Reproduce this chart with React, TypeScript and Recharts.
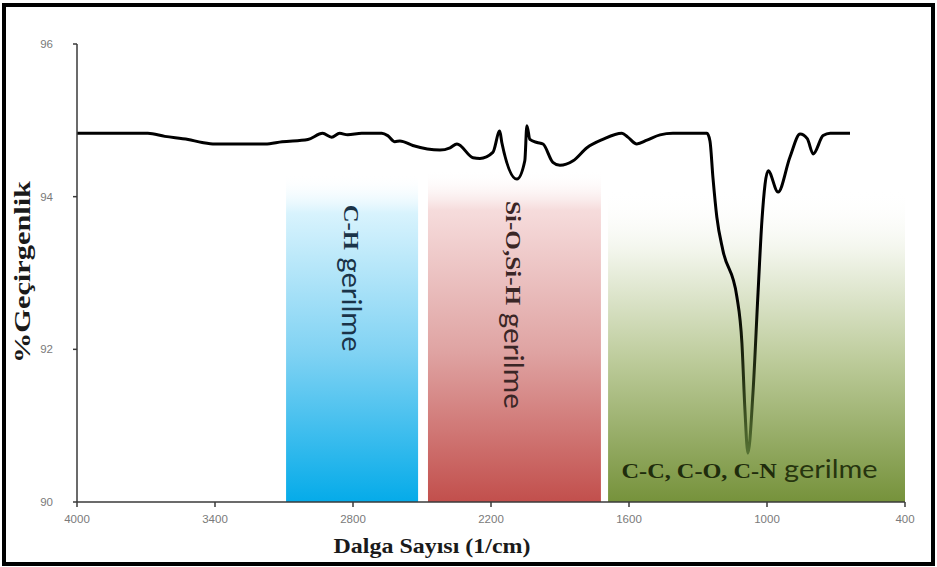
import React from "react";
import {
  LineChart,
  Line,
  XAxis,
  YAxis,
  ReferenceArea,
} from "recharts";

// wave numbers (1/cm) and % transmittance
const wavenumber = [
  4000, 3692, 3618, 3517, 3456, 3400, 3182, 3108, 2996, 2932, 2893, 2858, 2823,
  2762, 2675, 2649, 2618, 2596, 2540, 2422, 2378, 2348, 2278, 2248, 2192, 2162,
  2153, 2087, 2053, 2044, 2031, 2000, 1974, 1931, 1900, 1843, 1783, 1714, 1631,
  1605, 1566, 1522, 1465, 1409, 1261, 1248, 1235, 1218, 1192, 1131, 1109, 1096,
  1083, 1061, 1039, 1022, 995, 952, 900, 856, 825, 799, 756, 725, 639,
];
const transmittance = [
  94.83, 94.83, 94.79, 94.75, 94.71, 94.69, 94.69, 94.72, 94.75, 94.83, 94.78,
  94.83, 94.81, 94.83, 94.83, 94.8, 94.72, 94.73, 94.67, 94.61, 94.64, 94.69,
  94.51, 94.5, 94.58, 94.86, 94.71, 94.23, 94.47, 94.93, 94.75, 94.71, 94.69,
  94.45, 94.41, 94.47, 94.64, 94.75, 94.83, 94.78, 94.69, 94.74, 94.81, 94.83,
  94.83, 94.73, 94.25, 93.73, 93.3, 92.69, 92.08, 91.21, 90.64, 91.43, 92.74,
  93.69, 94.34, 94.06, 94.52, 94.82, 94.76, 94.56, 94.8, 94.83, 94.83,
];

const xTicks = [4000, 3400, 2800, 2200, 1600, 1000, 400];
const yTicks = [90, 92, 94, 96];

// absorption regions
const bandFrom = [3091, 2474, 1691];
const bandTo = [2517, 1722, 400];
const bandTop = [94.3, 94.35, 94.1];
const bandGroup = ["C-H", "Si-O,Si-H", "C-C, C-O, C-N"];
const bandWord = "gerilme";

const data = wavenumber.map((wn, i) => ({ wn, t: transmittance[i] }));

const serif = "'Liberation Serif', 'DejaVu Serif', serif";
const sans = "Lato, 'Open Sans', sans-serif";

function BandLabel({ viewBox, index }: { viewBox?: any; index: number }) {
  if (!viewBox) return null;
  const { x, y, width, height } = viewBox;
  const cx = x + width / 2;
  if (index === 2) {
    return (
      <text
        x={cx - 7}
        y={y + height - 24}
        textAnchor="middle"
        textLength={256}
        lengthAdjust="spacingAndGlyphs"
        fill="#1f2c0c"
      >
        <tspan fontFamily={serif} fontWeight="bold" fontSize={21}>
          {bandGroup[index]}
        </tspan>
        <tspan fontFamily={sans} fontSize={25} fill="#27350f">
          {" " + bandWord}
        </tspan>
      </text>
    );
  }
  const y0 = y + 31;
  const len = index === 0 ? 147 : 208;
  const color = index === 0 ? "#1a3348" : "#3a2626";
  return (
    <text
      x={cx}
      y={y0}
      transform={`rotate(90, ${cx}, ${y0})`}
      dominantBaseline="central"
      textLength={len}
      lengthAdjust="spacingAndGlyphs"
      fill={color}
    >
      <tspan fontFamily={serif} fontWeight="bold" fontSize={22}>
        {bandGroup[index]}
      </tspan>
      <tspan fontFamily={sans} fontSize={26}>
        {" " + bandWord}
      </tspan>
    </text>
  );
}

const gradIds = ["gBlue", "gRed", "gGreen"];

export default function App() {
  return (
    <div
      style={{
        position: "absolute",
        left: 0,
        top: 0,
        width: 937,
        height: 567,
        background: "#fff",
      }}
    >
      <LineChart
        width={937}
        height={567}
        data={data}
        margin={{ top: 44, right: 32, left: 40, bottom: 35 }}
      >
        <defs>
          <linearGradient id="gBlue" x1="0" y1="0" x2="0" y2="1">
            <stop offset="0" stopColor="#ffffff" stopOpacity={0} />
            <stop offset="0.12" stopColor="#d8f3fd" stopOpacity={1} />
            <stop offset="0.55" stopColor="#7fd2f3" stopOpacity={1} />
            <stop offset="1" stopColor="#05abe9" stopOpacity={1} />
          </linearGradient>
          <linearGradient id="gRed" x1="0" y1="0" x2="0" y2="1">
            <stop offset="0" stopColor="#ffffff" stopOpacity={0} />
            <stop offset="0.12" stopColor="#f6dcdc" stopOpacity={1} />
            <stop offset="0.55" stopColor="#dfa3a2" stopOpacity={1} />
            <stop offset="1" stopColor="#c24f4c" stopOpacity={1} />
          </linearGradient>
          <linearGradient id="gGreen" x1="0" y1="0" x2="0" y2="1">
            <stop offset="0" stopColor="#ffffff" stopOpacity={0} />
            <stop offset="0.2" stopColor="#f2f5eb" stopOpacity={1} />
            <stop offset="0.55" stopColor="#bccb9a" stopOpacity={1} />
            <stop offset="1" stopColor="#76923b" stopOpacity={1} />
          </linearGradient>
          <linearGradient
            id="gLine"
            gradientUnits="userSpaceOnUse"
            x1="0"
            y1="44"
            x2="0"
            y2="502"
          >
            <stop offset="0" stopColor="#000000" />
            <stop offset="0.55" stopColor="#000000" />
            <stop offset="0.75" stopColor="#2a3816" />
            <stop offset="0.9" stopColor="#587535" />
            <stop offset="1" stopColor="#6a8a3e" />
          </linearGradient>
        </defs>

        <XAxis
          dataKey="wn"
          type="number"
          domain={[400, 4000]}
          reversed
          ticks={xTicks}
          height={30}
          tickSize={5}
          tickMargin={8}
          stroke="#3a3a3a"
          strokeWidth={1.5}
          tick={{ fill: "#7a7a7a", fontSize: 11.5, fontFamily: "'Liberation Sans', Arial, sans-serif" }}
        />
        <YAxis
          type="number"
          domain={[90, 96]}
          ticks={yTicks}
          width={37}
          tickSize={4}
          tickMargin={20}
          stroke="#3a3a3a"
          strokeWidth={1.5}
          tick={{ fill: "#7a7a7a", fontSize: 11.5, fontFamily: "'Liberation Sans', Arial, sans-serif" }}
        />

        {bandFrom.map((from, i) => (
          <ReferenceArea
            key={gradIds[i]}
            x1={from}
            x2={bandTo[i]}
            y1={90}
            y2={bandTop[i]}
            fill={`url(#${gradIds[i]})`}
            fillOpacity={1}
            stroke="none"
            label={(p: any) => <BandLabel viewBox={p.viewBox} index={i} />}
          />
        ))}

        <Line
          dataKey="t"
          type="monotone"
          stroke="url(#gLine)"
          strokeWidth={3}
          strokeLinejoin="round"
          dot={false}
          activeDot={false}
          isAnimationActive={false}
        />

        <text
          x={22}
          y={272}
          transform="rotate(-90, 22, 272)"
          textAnchor="middle"
          dominantBaseline="central"
          fontFamily={serif}
          fontWeight="bold"
          fontSize={23}
          textLength={182}
          lengthAdjust="spacingAndGlyphs"
          fill="#1a1a1a"
        >
          %Geçirgenlik
        </text>
        <text
          x={432}
          y={553}
          textAnchor="middle"
          fontFamily={serif}
          fontWeight="bold"
          fontSize={21}
          textLength={197}
          lengthAdjust="spacingAndGlyphs"
          fill="#1a1a1a"
        >
          Dalga Sayısı (1/cm)
        </text>
      </LineChart>
      <div
        style={{
          position: "absolute",
          left: 2,
          top: 3,
          width: 933,
          height: 563,
          border: "4px solid #000",
          boxSizing: "border-box",
          pointerEvents: "none",
        }}
      />
    </div>
  );
}
